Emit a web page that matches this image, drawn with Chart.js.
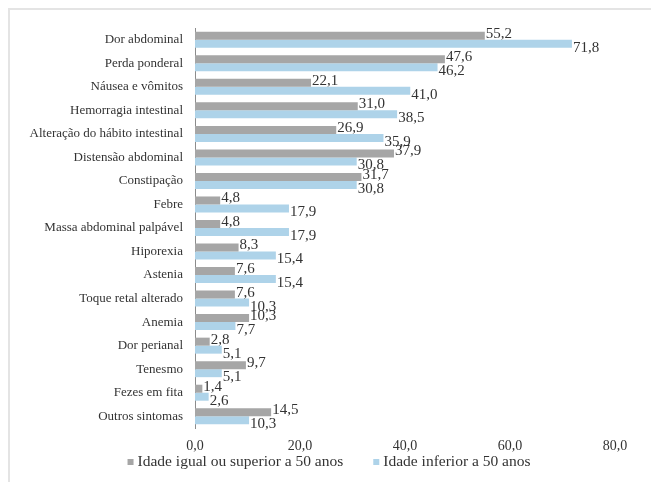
<!DOCTYPE html>
<html>
<head>
<meta charset="utf-8">
<script src="https://cdn.jsdelivr.net/npm/chart.js@4"></script>
<style>
  html, body { margin: 0; padding: 0; background: #fff; }
  .frame { position: absolute; left: 8px; top: 8px; width: 651px; height: 482px;
           border-left: 2px solid #e4e4e4; border-top: 2px solid #e4e4e4; }
  #wrap { position: absolute; left: 0; top: 0; width: 651px; height: 482px; }
</style>
</head>
<body>
<div class="frame"></div>
<div id="wrap"><canvas id="chart" width="651" height="482"></canvas></div>
<script>
const symptoms = [
  "Dor abdominal", "Perda ponderal", "Náusea e vômitos", "Hemorragia intestinal",
  "Alteração do hábito intestinal", "Distensão abdominal", "Constipação", "Febre",
  "Massa abdominal palpável", "Hiporexia", "Astenia", "Toque retal alterado",
  "Anemia", "Dor perianal", "Tenesmo", "Fezes em fita", "Outros sintomas"
];
const age50plus = [55.2, 47.6, 22.1, 31.0, 26.9, 37.9, 31.7, 4.8, 4.8, 8.3, 7.6, 7.6, 10.3, 2.8, 9.7, 1.4, 14.5];
const ageUnder50 = [71.8, 46.2, 41.0, 38.5, 35.9, 30.8, 30.8, 17.9, 17.9, 15.4, 15.4, 10.3, 7.7, 5.1, 5.1, 2.6, 10.3];
const xTicks = [0, 20, 40, 60, 80];

const SERIF = "'Liberation Serif', 'DejaVu Serif', serif";
const TEXT = "#333333";
const fmt = v => v.toFixed(1).replace(".", ",");

// value labels at the end of each bar, gray slightly up, blue slightly down
const barLabels = {
  id: "barLabels",
  afterDatasetsDraw(chart) {
    const { ctx } = chart;
    ctx.save();
    ctx.font = `15px ${SERIF}`;
    ctx.fillStyle = TEXT;
    ctx.textAlign = "left";
    ctx.textBaseline = "middle";
    chart.data.datasets.forEach((ds, di) => {
      chart.getDatasetMeta(di).data.forEach((bar, i) => {
        const dy = di === 0 ? -2 : 4;
        ctx.fillText(fmt(ds.data[i]), bar.x + 1, bar.y + dy);
      });
    });
    ctx.restore();
  }
};

// legend drawn by hand under the axis, centred like the original
const bottomLegend = {
  id: "bottomLegend",
  afterDraw(chart) {
    const { ctx } = chart;
    const y = 462, box = 6, gap = 4, between = 30, centre = 329;
    ctx.save();
    ctx.font = `15.5px ${SERIF}`;
    ctx.textBaseline = "middle";
    const items = chart.data.datasets.map(ds => ({
      text: ds.label, color: ds.backgroundColor, w: box + gap + ctx.measureText(ds.label).width
    }));
    const total = items.reduce((s, it) => s + it.w, 0) + between * (items.length - 1);
    let x = centre - total / 2;
    items.forEach(it => {
      ctx.fillStyle = it.color;
      ctx.fillRect(x, y - box / 2, box, box);
      ctx.fillStyle = TEXT;
      ctx.fillText(it.text, x + box + gap, y);
      x += it.w + between;
    });
    ctx.restore();
  }
};

new Chart(document.getElementById("chart"), {
  type: "bar",
  data: {
    labels: symptoms,
    datasets: [
      { label: "Idade igual ou superior a 50 anos", data: age50plus,
        backgroundColor: "#a6a6a6", borderWidth: 0 },
      { label: "Idade inferior a 50 anos", data: ageUnder50,
        backgroundColor: "#aed3e9", borderWidth: 0 }
    ]
  },
  options: {
    indexAxis: "y",
    responsive: false,
    animation: false,
    datasets: { bar: { categoryPercentage: 0.68, barPercentage: 1.0 } },
    layout: { padding: { top: 28, right: 36, left: 10, bottom: 0 } },
    plugins: {
      legend: { display: false },
      tooltip: { enabled: false }
    },
    scales: {
      x: {
        min: 0, max: 80,
        afterBuildTicks: axis => { axis.ticks = xTicks.map(v => ({ value: v })); },
        afterFit: axis => { axis.height = 54; },
        ticks: { color: TEXT, font: { size: 14, family: SERIF }, callback: v => fmt(v), padding: 2 },
        grid: { display: false },
        border: { display: false }
      },
      y: {
        afterFit: axis => { axis.width = 185; },
        ticks: { color: TEXT, font: { size: 13, family: SERIF }, padding: 4, autoSkip: false },
        grid: { display: false },
        border: { display: true, color: "#8c8c8c", width: 1 }
      }
    }
  },
  plugins: [barLabels, bottomLegend]
});
</script>
</body>
</html>
